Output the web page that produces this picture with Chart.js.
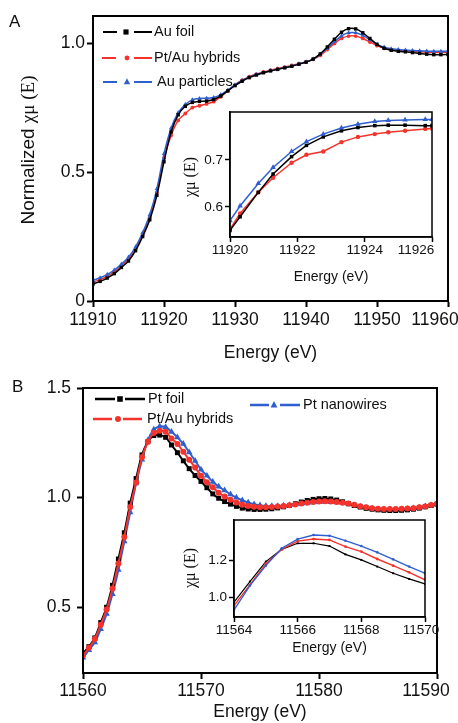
<!DOCTYPE html>
<html>
<head>
<meta charset="utf-8">
<script src="https://cdn.jsdelivr.net/npm/chart.js@4.4.0/dist/chart.umd.min.js"></script>
<style>
  html, body { margin: 0; padding: 0; background: #fff; }
  body { width: 458px; height: 723px; position: relative; overflow: hidden; }
  .box { position: absolute; }
</style>
</head>
<body>
<div class="box" style="left:0;top:0;width:458px;height:365px"><canvas id="mainA"></canvas></div>
<div class="box" style="left:180px;top:100px;width:265px;height:190px"><canvas id="insetA"></canvas></div>
<div class="box" style="left:0;top:365px;width:458px;height:358px"><canvas id="mainB"></canvas></div>
<div class="box" style="left:180px;top:505px;width:260px;height:160px"><canvas id="insetB"></canvas></div>
<script>
// ---- panel A, Au L3 edge
const xA = [11910, 11911, 11912, 11913, 11914, 11915, 11916, 11917, 11918, 11919,
  11920, 11921, 11922, 11923, 11924, 11925, 11926, 11927, 11928, 11929,
  11930, 11931, 11932, 11933, 11934, 11935, 11936, 11937, 11938, 11939,
  11940, 11941, 11942, 11943, 11944, 11945, 11946, 11947, 11948, 11949,
  11950, 11951, 11952, 11953, 11954, 11955, 11956, 11957, 11958, 11959, 11960];
const auFoil = [0.066, 0.076, 0.089, 0.106, 0.13, 0.155, 0.195, 0.25, 0.315, 0.41,
  0.54, 0.655, 0.722, 0.755, 0.77, 0.774, 0.775, 0.781, 0.795, 0.815,
  0.835, 0.852, 0.866, 0.876, 0.885, 0.892, 0.898, 0.904, 0.91, 0.918,
  0.926, 0.938, 0.958, 0.985, 1.015, 1.042, 1.056, 1.055, 1.04, 1.018,
  0.995, 0.98, 0.972, 0.968, 0.966, 0.963, 0.96, 0.957, 0.955, 0.955, 0.956];
const ptAuA = [0.073, 0.083, 0.096, 0.113, 0.137, 0.163, 0.203, 0.258, 0.325, 0.42,
  0.553, 0.642, 0.700, 0.727, 0.75, 0.757, 0.764, 0.773, 0.792, 0.815,
  0.838, 0.856, 0.87, 0.88, 0.888, 0.895, 0.901, 0.907, 0.913, 0.92,
  0.927, 0.937, 0.952, 0.975, 0.998, 1.018, 1.027, 1.027, 1.018, 1.004,
  0.99, 0.98, 0.975, 0.972, 0.97, 0.968, 0.966, 0.965, 0.964, 0.964, 0.965];
const auParticles = [0.08, 0.09, 0.103, 0.12, 0.143, 0.17, 0.21, 0.265, 0.335, 0.435,
  0.571, 0.67, 0.73, 0.762, 0.78, 0.785, 0.786, 0.789, 0.8, 0.818,
  0.838, 0.855, 0.868, 0.878, 0.886, 0.893, 0.899, 0.905, 0.911, 0.919,
  0.927, 0.938, 0.956, 0.98, 1.005, 1.028, 1.04, 1.04, 1.03, 1.013,
  0.995, 0.984, 0.978, 0.975, 0.973, 0.971, 0.97, 0.969, 0.968, 0.968, 0.969];
const xTicksA = [11910, 11920, 11930, 11940, 11950, 11960];
const yTicksA = [0, 0.5, 1.0];

// inset A
const xInA = [11920, 11920.3, 11920.84, 11921.28, 11921.83, 11922.27, 11922.77, 11923.31, 11923.8, 11924.3, 11924.7, 11925.2, 11925.8, 11926];
const auFoilIn = [0.55, 0.579, 0.631, 0.67, 0.707, 0.731, 0.749, 0.762, 0.769, 0.773, 0.774, 0.774, 0.773, 0.773];
const ptAuInA = [0.553, 0.586, 0.631, 0.662, 0.694, 0.711, 0.718, 0.738, 0.749, 0.755, 0.759, 0.762, 0.766, 0.767];
const auPartIn = [0.571, 0.602, 0.65, 0.684, 0.718, 0.739, 0.755, 0.768, 0.776, 0.782, 0.784, 0.785, 0.786, 0.786];
const xTicksInA = [11920, 11922, 11924, 11926];
const yTicksInA = [0.6, 0.7];

// ---- panel B, Pt L3 edge
const xB = [11560, 11560.5, 11561, 11561.5, 11562, 11562.5, 11563, 11563.5, 11564, 11564.5,
  11565, 11565.5, 11566, 11566.5, 11567, 11567.5, 11568, 11568.5, 11569, 11569.5,
  11570, 11570.5, 11571, 11571.5, 11572, 11572.5, 11573, 11573.5, 11574, 11574.5,
  11575, 11575.5, 11576, 11576.5, 11577, 11577.5, 11578, 11578.5, 11579, 11579.5,
  11580, 11580.5, 11581, 11581.5, 11582, 11582.5, 11583, 11583.5, 11584, 11584.5,
  11585, 11585.5, 11586, 11586.5, 11587, 11587.5, 11588, 11588.5, 11589, 11589.5, 11590];
const ptFoil = [0.29, 0.32, 0.36, 0.43, 0.50, 0.60, 0.72, 0.84, 0.975, 1.087,
  1.195, 1.255, 1.283, 1.285, 1.275, 1.24, 1.205, 1.168, 1.132, 1.101,
  1.074, 1.045, 1.017, 0.997, 0.982, 0.97, 0.96, 0.952, 0.948, 0.946,
  0.946, 0.947, 0.949, 0.953, 0.958, 0.964, 0.972, 0.98, 0.987, 0.992,
  0.995, 0.996, 0.994, 0.989, 0.981, 0.972, 0.964, 0.957, 0.951, 0.947,
  0.944, 0.942, 0.941, 0.941, 0.942, 0.944, 0.947, 0.952, 0.958, 0.964, 0.97];
const ptAuB = [0.28, 0.315, 0.355, 0.42, 0.49, 0.585, 0.70, 0.82, 0.957, 1.069,
  1.184, 1.255, 1.295, 1.305, 1.3, 1.27, 1.245, 1.209, 1.173, 1.137,
  1.1, 1.07, 1.047, 1.022, 1.005, 0.99, 0.978, 0.968, 0.962, 0.958,
  0.956, 0.956, 0.957, 0.959, 0.962, 0.965, 0.969, 0.973, 0.977, 0.98,
  0.982, 0.983, 0.982, 0.98, 0.977, 0.973, 0.967, 0.961, 0.956, 0.952,
  0.949, 0.948, 0.948, 0.948, 0.949, 0.95, 0.952, 0.956, 0.96, 0.966, 0.972];
const ptWires = [0.27, 0.305, 0.34, 0.40, 0.47, 0.56, 0.67, 0.80, 0.933, 1.065,
  1.173, 1.262, 1.31, 1.325, 1.322, 1.3, 1.275, 1.245, 1.207, 1.168,
  1.128, 1.1, 1.072, 1.05, 1.033, 1.015, 1.0, 0.988, 0.978, 0.97,
  0.965, 0.962, 0.961, 0.962, 0.964, 0.966, 0.969, 0.972, 0.975, 0.978,
  0.98, 0.981, 0.98, 0.978, 0.975, 0.97, 0.964, 0.958, 0.953, 0.949,
  0.946, 0.945, 0.945, 0.945, 0.946, 0.948, 0.951, 0.955, 0.96, 0.965, 0.971];
const xTicksB = [11560, 11570, 11580, 11590];
const yTicksB = [0.5, 1.0, 1.5];

// inset B
const xInB = [11564, 11564.5, 11565, 11565.5, 11566, 11566.5, 11567, 11567.5, 11568, 11568.5, 11569, 11569.5, 11570];
const ptFoilIn = [0.975, 1.087, 1.195, 1.261, 1.294, 1.294, 1.279, 1.234, 1.204, 1.168, 1.132, 1.101, 1.074];
const ptAuInB = [0.957, 1.069, 1.184, 1.261, 1.306, 1.317, 1.312, 1.276, 1.249, 1.209, 1.173, 1.137, 1.096];
const ptWiresIn = [0.933, 1.065, 1.173, 1.267, 1.317, 1.339, 1.335, 1.308, 1.279, 1.245, 1.207, 1.168, 1.132];
const xTicksInB = [11564, 11566, 11568, 11570];
const yTicksInB = [1.0, 1.2];

const BLACK = '#000000';
const RED = '#f4332c';
const BLUE = '#2f5fcf';
const SANS = '"Liberation Sans", Arial, sans-serif';
const SERIF = '"Liberation Serif", "DejaVu Serif", serif';

function series(label, xs, ys, color, style, r, w, tension) {
  return {
    label,
    data: xs.map((x, i) => ({ x, y: ys[i] })),
    borderColor: color,
    backgroundColor: color,
    borderWidth: w,
    pointStyle: style,
    pointRadius: r,
    pointBackgroundColor: color,
    pointBorderColor: color,
    pointBorderWidth: 0,
    tension: tension || 0
  };
}

function axes(o) {
  return {
    x: {
      type: 'linear', bounds: 'data', min: o.xMin, max: o.xMax,
      afterBuildTicks: ax => { ax.ticks = o.xTicks.map(v => ({ value: v })); },
      afterFit: ax => { ax.height = o.xH; ax.paddingLeft = 0; ax.paddingRight = 0; },
      ticks: { autoSkip: false, maxRotation: 0, minRotation: 0, padding: o.xPad, color: '#111',
        font: { family: SANS, size: o.tickSize }, callback: v => String(v) },
      grid: { drawOnChartArea: false, tickLength: o.tl, tickWidth: o.bw, tickColor: '#000' },
      border: { color: '#000', width: o.bw },
      title: { display: true, text: 'Energy (eV)', color: '#111',
        font: { family: SANS, size: o.titleSize }, padding: { top: 0, bottom: o.titlePad } }
    },
    y: {
      type: 'linear', bounds: 'data', min: o.yMin, max: o.yMax,
      afterBuildTicks: ax => { ax.ticks = o.yTicks.map(v => ({ value: v })); },
      afterFit: ax => { ax.width = o.yW; ax.paddingTop = 0; ax.paddingBottom = 0; },
      ticks: { autoSkip: false, padding: o.yPad, color: '#111',
        font: { family: SANS, size: o.tickSize }, callback: v => (v === 0 ? '0' : v.toFixed(1)) },
      grid: { drawOnChartArea: false, tickLength: o.tl, tickWidth: o.bw, tickColor: '#000' },
      border: { color: '#000', width: o.bw }
    }
  };
}

// last x label sits a little to the left, as in the figure
const shiftLast = {
  id: 'shiftLast',
  beforeDraw(chart, args, opts) {
    const items = chart.scales.x.getLabelItems();
    const last = items[items.length - 1];
    if (last && opts.dx) {
      const t = last.options.translation;
      last.options.translation = [t[0] + opts.dx, t[1]];
    }
  }
};

function drawMarker(ctx, style, x, y, r) {
  ctx.beginPath();
  if (style === 'rect') {
    ctx.rect(x - r, y - r, 2 * r, 2 * r);
  } else if (style === 'circle') {
    ctx.arc(x, y, r, 0, Math.PI * 2);
  } else {
    ctx.moveTo(x, y - r * 1.15);
    ctx.lineTo(x + r, y + r * 0.7);
    ctx.lineTo(x - r, y + r * 0.7);
    ctx.closePath();
  }
  ctx.fill();
}

const decor = {
  id: 'decor',
  afterDraw(chart, args, o) {
    const { ctx, chartArea: a } = chart;
    ctx.save();
    ctx.strokeStyle = '#000';
    ctx.lineWidth = o.frame;
    ctx.strokeRect(a.left, a.top, a.right - a.left, a.bottom - a.top);

    ctx.textBaseline = 'middle';
    (o.texts || []).forEach(t => {
      ctx.font = t.font;
      ctx.fillStyle = '#111';
      ctx.textAlign = 'left';
      ctx.fillText(t.text, t.x, t.y);
    });

    // rotated y title, sans part + serif part
    if (o.yTitle) {
      const yt = o.yTitle;
      ctx.save();
      ctx.translate(yt.x, yt.y);
      ctx.rotate(-Math.PI / 2);
      ctx.fillStyle = '#111';
      ctx.textAlign = 'left';
      let w = 0;
      yt.parts.forEach(p => { ctx.font = p.font; w += ctx.measureText(p.text).width; });
      let cx = -w / 2;
      yt.parts.forEach(p => {
        ctx.font = p.font;
        ctx.fillText(p.text, cx, 0);
        cx += ctx.measureText(p.text).width;
      });
      ctx.restore();
    }

    (o.legend || []).forEach(l => {
      ctx.strokeStyle = l.color;
      ctx.fillStyle = l.color;
      ctx.lineWidth = l.lw;
      ctx.beginPath();
      ctx.moveTo(l.x1, l.y); ctx.lineTo(l.x2, l.y);
      ctx.moveTo(l.x3, l.y); ctx.lineTo(l.x4, l.y);
      ctx.stroke();
      drawMarker(ctx, l.style, l.mx, l.y, l.r);
      ctx.fillStyle = '#111';
      ctx.font = l.font;
      ctx.textAlign = 'left';
      ctx.fillText(l.label, l.tx, l.y);
    });
    ctx.restore();
  }
};

function makeChart(id, datasets, scales, pad, decorOpts, dx) {
  return new Chart(document.getElementById(id), {
    type: 'line',
    data: { datasets },
    options: {
      responsive: true,
      maintainAspectRatio: false,
      animation: false,
      devicePixelRatio: 1,
      layout: { padding: pad },
      scales,
      plugins: {
        legend: { display: false },
        tooltip: { enabled: false },
        decor: decorOpts,
        shiftLast: { dx }
      }
    },
    plugins: [decor, shiftLast]
  });
}

const legFontA = '14.5px ' + SANS;

makeChart('mainA', [
  series('Au foil', xA, auFoil, BLACK, 'rect', 2.4, 1.5, 0.3),
  series('Au particles', xA, auParticles, BLUE, 'triangle', 2.6, 1.5, 0.3),
  series('Pt/Au hybrids', xA, ptAuA, RED, 'circle', 1.9, 1.5, 0.3)
], axes({
  xMin: 11910, xMax: 11960, xTicks: xTicksA, yMin: 0, yMax: 1.105, yTicks: yTicksA,
  xH: 64, yW: 93, xPad: 3, yPad: 2, tl: 6, bw: 2, tickSize: 17.5, titleSize: 17.5, titlePad: 1
}), { top: 16, right: 10, left: 0, bottom: 0 }, {
  frame: 2,
  texts: [{ text: 'A', x: 9, y: 22, font: '17px ' + SANS }],
  yTitle: { x: 29, y: 150, parts: [
    { text: 'Normalized ', font: '19px ' + SANS },
    { text: 'χμ (E)', font: '19px ' + SERIF }
  ] },
  legend: [
    { label: 'Au foil', color: BLACK, style: 'rect', r: 2.6, lw: 2, x1: 103, x2: 117, mx: 126, x3: 134, x4: 152, tx: 154, y: 32, font: legFontA },
    { label: 'Pt/Au hybrids', color: RED, style: 'circle', r: 2.4, lw: 2, x1: 102, x2: 116, mx: 127, x3: 134, x4: 152, tx: 154, y: 58, font: legFontA },
    { label: 'Au particles', color: BLUE, style: 'triangle', r: 3.2, lw: 2, x1: 103, x2: 117, mx: 127, x3: 134, x4: 152, tx: 157, y: 82, font: legFontA }
  ]
}, -13);

makeChart('insetA', [
  series('Au particles', xInA, auPartIn, BLUE, 'triangle', 3.2, 1.5),
  series('Au foil', xInA, auFoilIn, BLACK, 'rect', 2.5, 1.5),
  series('Pt/Au hybrids', xInA, ptAuInA, RED, 'circle', 2.2, 1.5)
], axes({
  xMin: 11920, xMax: 11926, xTicks: xTicksInA, yMin: 0.536, yMax: 0.802, yTicks: yTicksInA,
  xH: 53, yW: 50, xPad: 0, yPad: 2, tl: 5, bw: 1.5, tickSize: 13.5, titleSize: 14, titlePad: 4.5
}), { top: 12, right: 13, left: 0, bottom: 0 }, {
  frame: 1.5,
  yTitle: { x: 11, y: 77, parts: [{ text: 'χμ (E)', font: '16px ' + SERIF }] }
}, -16);

const legFontB = '14.5px ' + SANS;

makeChart('mainB', [
  series('Pt/Au hybrids', xB, ptAuB, RED, 'circle', 3, 2, 0.3),
  series('Pt foil', xB, ptFoil, BLACK, 'rect', 3.5, 2, 0.3),
  series('Pt nanowires', xB, ptWires, BLUE, 'triangle', 3.8, 2, 0.3)
], axes({
  xMin: 11560, xMax: 11590, xTicks: xTicksB, yMin: 0.2, yMax: 1.5, yTicks: yTicksB,
  xH: 50, yW: 83, xPad: 2, yPad: 6, tl: 6, bw: 2, tickSize: 17.5, titleSize: 17.5, titlePad: 0
}), { top: 23, right: 21, left: 0, bottom: 0 }, {
  frame: 2,
  texts: [{ text: 'B', x: 12, y: 22, font: '17px ' + SANS }],
  legend: [
    { label: 'Pt foil', color: BLACK, style: 'rect', r: 2.8, lw: 2.5, x1: 95, x2: 115, mx: 120, x3: 125, x4: 145, tx: 148, y: 34, font: legFontB },
    { label: 'Pt/Au hybrids', color: RED, style: 'circle', r: 3, lw: 2.5, x1: 93, x2: 112, mx: 118, x3: 123, x4: 142, tx: 147, y: 54, font: legFontB },
    { label: 'Pt nanowires', color: BLUE, style: 'triangle', r: 3.4, lw: 2.5, x1: 250, x2: 269, mx: 274, x3: 280, x4: 300, tx: 303, y: 40, font: legFontB }
  ]
}, -11);

makeChart('insetB', [
  series('Pt nanowires', xInB, ptWiresIn, BLUE, 'circle', 1.3, 1.4),
  series('Pt/Au hybrids', xInB, ptAuInB, RED, 'circle', 1.4, 1.4),
  series('Pt foil', xInB, ptFoilIn, BLACK, 'rect', 1.4, 1.2)
], axes({
  xMin: 11564, xMax: 11570, xTicks: xTicksInB, yMin: 0.895, yMax: 1.42, yTicks: yTicksInB,
  xH: 48, yW: 54, xPad: 0, yPad: 2, tl: 5, bw: 1.5, tickSize: 13.5, titleSize: 14, titlePad: 8
}), { top: 15, right: 15, left: 0, bottom: 0 }, {
  frame: 1.5,
  yTitle: { x: 11, y: 63, parts: [{ text: 'χμ (E)', font: '16px ' + SERIF }] }
}, -4);
</script>
</body>
</html>
